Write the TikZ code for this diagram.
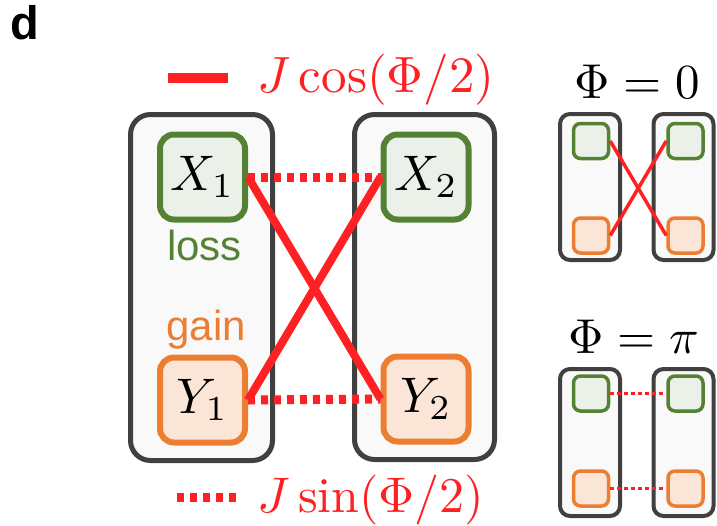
\documentclass[tikz,border=0pt]{standalone}
\usepackage{fontspec}
\newfontfamily\lsans{Liberation Sans}
\newcommand\mymath[2]{\scalebox{#1}{$#2$}}
\definecolor{cred}{RGB}{255,32,36}
\definecolor{cgreen}{RGB}{84,130,53}
\definecolor{cgreenfill}{RGB}{235,241,232}
\definecolor{corange}{RGB}{237,125,49}
\definecolor{corangefill}{RGB}{251,229,214}
\definecolor{cdark}{RGB}{64,64,64}
\definecolor{cgrayfill}{RGB}{249,249,249}
\begin{document}
\begin{tikzpicture}[x=1pt,y=-1pt,
  bigbox/.style={draw=cdark,fill=cgrayfill,line width=5pt,rounded corners=20pt,inner sep=0pt},
  smallouter/.style={draw=cdark,fill=cgrayfill,line width=4pt,rounded corners=10pt,inner sep=0pt,minimum width=60pt,minimum height=146pt},
  gbox/.style={draw=cgreen,fill=cgreenfill,line width=6pt,rounded corners=14pt,inner sep=0pt,minimum width=85pt,minimum height=85pt},
  obox/.style={draw=corange,fill=corangefill,line width=6pt,rounded corners=14pt,inner sep=0pt,minimum width=85pt,minimum height=85pt},
  gsmall/.style={draw=cgreen,fill=cgreenfill,line width=3.5pt,rounded corners=7pt,inner sep=0pt,minimum width=35pt,minimum height=35pt},
  osmall/.style={draw=corange,fill=corangefill,line width=3.5pt,rounded corners=7pt,inner sep=0pt,minimum width=35pt,minimum height=35pt},
  solidlink/.style={draw=cred,line width=8pt},
  dotlink/.style={draw=cred,line width=9pt,dash pattern=on 7pt off 6pt},
  solidsmall/.style={draw=cred,line width=3.5pt},
  dotsmall/.style={draw=cred,line width=3.5pt,dash pattern=on 4pt off 3pt},
  lbl/.style={inner sep=0pt,anchor=base},
]
\useasboundingbox (0,0) rectangle (717,525);

% panel label
\node[lbl,anchor=base west,font=\lsans\bfseries\fontsize{47}{56}\selectfont] (d) at (10,39) {d};

% main boxes
\node[bigbox,minimum width=142pt,minimum height=346pt] (L) at (201.5,287.5) {};
\node[bigbox,minimum width=140pt,minimum height=345pt] (R) at (424.5,287) {};

\node[gbox] (X1) at (202.5,177) {\mymath{5}{X_1}};
\node[obox] (Y1) at (202.5,400) {\mymath{5}{Y_1}};
\node[gbox] (X2) at (426,177) {\mymath{5}{X_2}};
\node[obox] (Y2) at (426,399) {\mymath{5}{Y_2}};

\node[lbl,text=cgreen,font=\lsans\fontsize{42}{50}\selectfont] (loss) at (204.5,260) {loss};
\node[lbl,text=corange,font=\lsans\fontsize{42}{50}\selectfont] (gain) at (206,340) {gain};

% links
\draw[dotlink] (X1.east) -- (X2.west);
\draw[dotlink] (Y1.east) -- (Y2.west);
\draw[solidlink] (X1.east) -- (Y2.west);
\draw[solidlink] (Y1.east) -- (X2.west);

% legend
\coordinate (ls1) at (168,78);
\coordinate (ls2) at (228,78);
\draw[solidlink,line width=10pt] (ls1) -- (ls2);
\node[lbl,anchor=base west,text=cred] (lcos) at (257,92) {\mymath{5.1}{J\cos(\Phi/2)}};
\coordinate (ld1) at (177,497);
\coordinate (ld2) at (241,497);
\draw[dotlink] (ld1) -- (ld2);
\node[lbl,anchor=base west,text=cred] (lsin) at (257,512) {\mymath{5}{J\sin(\Phi/2)}};

% Phi = 0
\node[lbl] (t0) at (637.5,98) {\mymath{4.9}{\Phi=0}};
\node[smallouter] (aL) at (590,187) {};
\node[smallouter] (aR) at (683.5,187) {};
\node[gsmall] (ag1) at (591,141) {};
\node[osmall] (ao1) at (591,235.5) {};
\node[gsmall] (ag2) at (685.5,141) {};
\node[osmall] (ao2) at (685.5,235.5) {};
\draw[solidsmall] (ag1.east) -- (ao2.west);
\draw[solidsmall] (ao1.east) -- (ag2.west);

% Phi = pi
\node[lbl] (tp) at (633.5,353) {\mymath{4.9}{\Phi=\pi}};
\node[smallouter,minimum height=147pt] (bL) at (590,442.5) {};
\node[smallouter,minimum height=147pt] (bR) at (683.5,442.5) {};
\node[gsmall] (bg1) at (591,393.5) {};
\node[osmall] (bo1) at (591,488.5) {};
\node[gsmall] (bg2) at (685.5,393.5) {};
\node[osmall] (bo2) at (685.5,488.5) {};
\draw[dotsmall] (bg1.east) -- (bg2.west);
\draw[dotsmall] (bo1.east) -- (bo2.west);
\end{tikzpicture}
\end{document}
